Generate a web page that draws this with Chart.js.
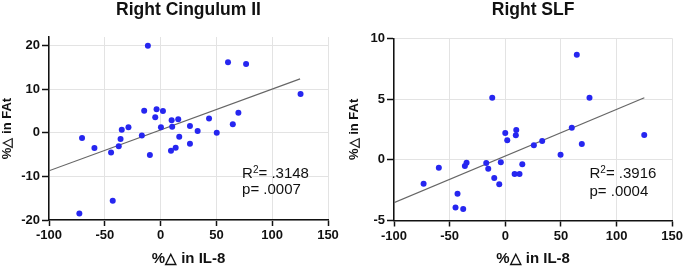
<!DOCTYPE html>
<html>
<head>
<meta charset="utf-8">
<script src="https://cdn.jsdelivr.net/npm/chart.js@4.4.1/dist/chart.umd.min.js"></script>
<style>
  html, body { margin: 0; padding: 0; background: #fff; }
  #wrap { position: relative; width: 685px; height: 269px; overflow: hidden; }
  canvas { position: absolute; top: 0; }
</style>
</head>
<body>
<div id="wrap">
  <canvas id="cing" width="345" height="269" style="left:0"></canvas>
  <canvas id="slf" width="340" height="269" style="left:345px"></canvas>
</div>
<script>
// ---- data ----
var xTicks = [-100, -50, 0, 50, 100, 150];
var cingYTicks = [-20, -10, 0, 10, 20];
var slfYTicks = [-5, 0, 5, 10];

// Right Cingulum II : %change IL-8 vs %change FAt
var cingX = [-11.4, 60.4, 76.6, 125.4, -14.7, -3.6, 2.1, -4.8, 69.7, 9.9, 15.8,
             43.4, 64.7, 0.3, 10.4, 26.3, -34.8, -28.8, 33.2, 50.3, -16.8, -70.4,
             -35.9, 16.7, 26.3, -37.5, -59.3, 13.5, 9.3, -44.4, -9.6, -42.9, -72.8];
var cingY = [20.0, 16.2, 15.8, 8.9, 5.1, 5.4, 5.0, 3.6, 4.6, 2.9, 3.1,
             3.3, 2.0, 1.3, 1.4, 1.6, 0.7, 1.3, 0.4, 0.0, -0.6, -1.2,
             -1.4, -0.9, -2.5, -3.1, -3.5, -3.4, -4.1, -4.5, -5.1, -15.6, -18.5];
var cingFitX = [-100, 125];
var cingFitY = [-8.7, 12.4];

// Right SLF
var slfX = [64.3, -11.7, 75.7, 59.8, 0, 9.9, 9.5, 1.8, 33.2, 25.7, 68.8, 124.9,
            49.7, -59.7, -36.3, -34.8, -17.1, -15.3, -4, 15.3, -9.9, 8.4, 12.8,
            -5.4, -73.4, -42.9, -44.7, -37.8];
var slfY = [8.65, 5.11, 5.11, 2.64, 2.21, 2.45, 2.02, 1.60, 1.55, 1.19, 1.30, 2.04,
            0.42, -0.65, -0.51, -0.24, -0.26, -0.73, -0.21, -0.37, -1.50, -1.17, -1.17,
            -2.02, -1.97, -2.79, -3.94, -4.05];
var slfFitX = [-100, 125];
var slfFitY = [-3.53, 5.11];

var FONT = "'Liberation Sans', Arial, Helvetica, sans-serif";
var INK = '#111';
var DOT = 'rgb(38,38,240)';

function pairs(xs, ys) {
    return xs.map(function(x, i) { return {x: x, y: ys[i]}; });
}

// draws the R^2 / p annotation, anchored in data coordinates
var statText = {
    id: 'statText',
    afterDatasetsDraw: function(chart, args, opts) {
        var ctx = chart.ctx;
        var px = chart.scales.x.getPixelForValue(opts.x);
        var y1 = chart.scales.y.getPixelForValue(opts.yR);
        var y2 = chart.scales.y.getPixelForValue(opts.yP);
        ctx.save();
        ctx.fillStyle = INK;
        ctx.textBaseline = 'alphabetic';
        ctx.textAlign = 'left';
        ctx.font = '15px ' + FONT;
        ctx.fillText('R', px, y1);
        var w = ctx.measureText('R').width;
        ctx.font = '10px ' + FONT;
        ctx.fillText('2', px + w, y1 - 5.5);
        var w2 = ctx.measureText('2').width;
        ctx.font = '15px ' + FONT;
        ctx.fillText('= ' + opts.r2, px + w + w2, y1);
        ctx.fillText('p= ' + opts.p, px, y2);
        ctx.restore();
    }
};

function makeChart(id, cfg) {
    var yTicks = cfg.yTicks;
    return new Chart(document.getElementById(id), {
        type: 'scatter',
        data: {
            datasets: [{
                data: pairs(cfg.xs, cfg.ys),
                backgroundColor: DOT,
                borderWidth: 0,
                pointRadius: 3,
                order: 1
            }, {
                type: 'line',
                data: pairs(cfg.fitX, cfg.fitY),
                borderColor: '#666',
                borderWidth: 1.2,
                pointRadius: 0,
                fill: false,
                order: 2
            }]
        },
        options: {
            responsive: false,
            animation: false,
            layout: { padding: { left: 0, right: cfg.padRight, top: 0, bottom: 0 } },
            plugins: {
                legend: { display: false },
                tooltip: { enabled: false },
                title: {
                    display: true,
                    text: cfg.title,
                    fullSize: false,
                    color: INK,
                    font: { family: FONT, size: 17.5, weight: 'bold' },
                    padding: { top: 0, bottom: cfg.titleGap }
                },
                statText: cfg.stat
            },
            scales: {
                x: {
                    type: 'linear',
                    min: -100, max: 150,
                    afterBuildTicks: function(s) { s.ticks = xTicks.map(function(v) { return {value: v}; }); },
                    afterFit: function(s) { s.height = cfg.xHeight; },
                    grid: { color: '#e3e3e3', lineWidth: 1, tickColor: INK, tickWidth: 1.5, tickLength: 6 },
                    border: { color: INK, width: 1.5 },
                    ticks: { color: INK, padding: 2, maxRotation: 0, autoSkip: false,
                             font: { family: FONT, size: 13, weight: 'bold' } },
                    title: { display: true, text: '%\u25B3 in IL-8', color: INK,
                             font: { family: FONT, size: 15, weight: 'bold' },
                             padding: { top: 0, bottom: 1 } }
                },
                y: {
                    type: 'linear',
                    min: cfg.yMin, max: cfg.yMax,
                    afterBuildTicks: function(s) { s.ticks = yTicks.map(function(v) { return {value: v}; }); },
                    afterFit: function(s) { s.width = cfg.yWidth; },
                    grid: { color: '#e3e3e3', lineWidth: 1, tickColor: INK, tickWidth: 1.5, tickLength: 7 },
                    border: { color: INK, width: 1.5 },
                    ticks: { color: INK, padding: 2,
                             font: { family: FONT, size: 13, weight: 'bold' } },
                    title: { display: true, text: '%\u25B3 in FAt', color: INK,
                             font: { family: FONT, size: 13, weight: 'bold' },
                             padding: { top: cfg.yTitlePad, bottom: 0 } }
                }
            }
        },
        plugins: [statText]
    });
}

makeChart('cing', {
    title: 'Right Cingulum II',
    xs: cingX, ys: cingY, fitX: cingFitX, fitY: cingFitY,
    yTicks: cingYTicks, yMin: -20, yMax: 22,
    padRight: 17, yWidth: 49, xHeight: 49, titleGap: 16, yTitlePad: 0,
    stat: { x: 73, yR: -10.4, yP: -14.1, r2: '.3148', p: '.0007' }
});

makeChart('slf', {
    title: 'Right SLF',
    xs: slfX, ys: slfY, fitX: slfFitX, fitY: slfFitY,
    yTicks: slfYTicks, yMin: -5, yMax: 10,
    padRight: 12, yWidth: 49, xHeight: 48.5, titleGap: 17.3, yTitlePad: 2,
    stat: { x: 75.7, yR: -1.52, yP: -2.95, r2: '.3916', p: '.0004' }
});
</script>
</body>
</html>
